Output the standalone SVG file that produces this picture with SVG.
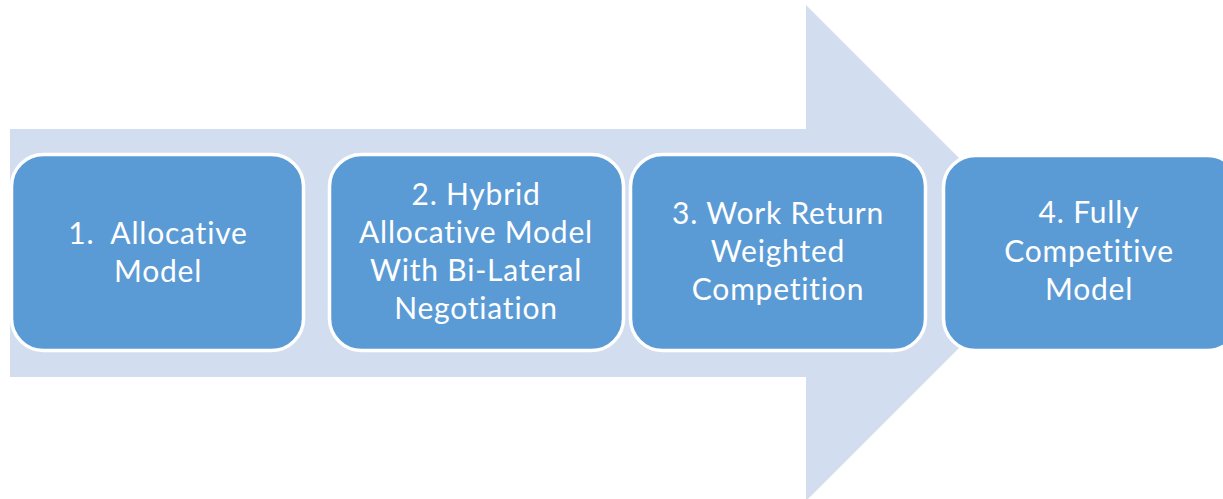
<svg xmlns="http://www.w3.org/2000/svg" width="1223" height="499" viewBox="0 0 1223 499">
<style>
.box{fill:#5B9BD5;stroke:#FFFFFF;stroke-width:3.5}
.t{font-family:Lato,"Open Sans","Liberation Sans",sans-serif;font-size:30px;letter-spacing:0.8px;fill:#FFFFFF;text-anchor:middle;font-variant-ligatures:none;white-space:pre}
</style>
<rect width="1223" height="499" fill="#FFFFFF"/>
<g id="arrow">
<polygon points="10,129 806,129 806,5 1054,253 806,501 806,377 10,377" fill="#D2DEEF"/>
</g>
<g id="connectors"></g>
<g id="node1">
<rect class="box" x="11.5" y="154.5" width="292" height="196" rx="32"/>
<text class="t" x="158" y="244" xml:space="preserve">1.  Allocative</text>
<text class="t" x="158" y="282">Model</text>
</g>
<g id="node2">
<rect class="box" x="329.5" y="154.5" width="294" height="196" rx="32"/>
<text class="t" x="476" y="205">2. Hybrid</text>
<text class="t" x="476" y="243">Allocative Model</text>
<text class="t" x="476" y="281">With Bi-Lateral</text>
<text class="t" x="476" y="319">Negotiation</text>
</g>
<g id="node3">
<rect class="box" x="630.5" y="154.5" width="295" height="196" rx="32"/>
<text class="t" x="778" y="224">3. Work Return</text>
<text class="t" x="778" y="262">Weighted</text>
<text class="t" x="778" y="300">Competition</text>
</g>
<g id="node4">
<rect class="box" x="943.5" y="155.5" width="296" height="195" rx="32"/>
<text class="t" x="1089" y="223">4. Fully</text>
<text class="t" x="1089" y="262">Competitive</text>
<text class="t" x="1089" y="300">Model</text>
</g>
</svg>
